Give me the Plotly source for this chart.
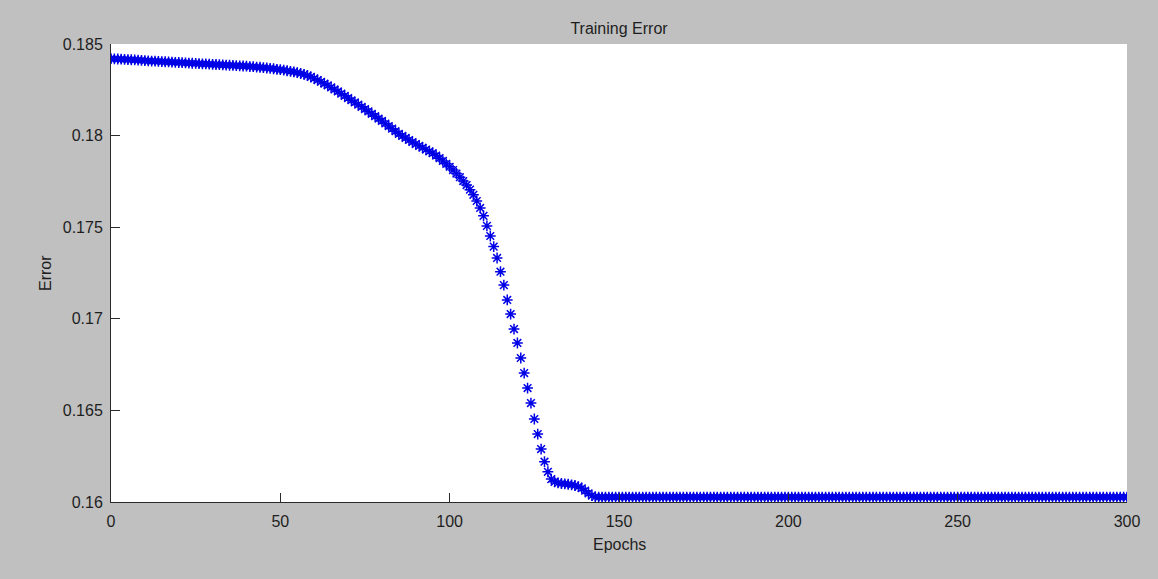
import plotly.graph_objects as go

# Training error per epoch (epochs 0..300)
epochs = list(range(0, 301))

error_head = [
    0.18420, 0.18419, 0.18418, 0.18417, 0.18416, 0.18415, 0.18414, 0.18413, 0.18412, 0.18411,
    0.18409, 0.18408, 0.18407, 0.18406, 0.18405, 0.18404, 0.18403, 0.18402, 0.18401, 0.18400,
    0.18399, 0.18398, 0.18397, 0.18396, 0.18395, 0.18394, 0.18393, 0.18392, 0.18391, 0.18390,
    0.18389, 0.18388, 0.18387, 0.18386, 0.18385, 0.18384, 0.18383, 0.18382, 0.18381, 0.18380,
    0.18379, 0.18377, 0.18376, 0.18374, 0.18373, 0.18371, 0.18369, 0.18367, 0.18365, 0.18362,
    0.18360, 0.18357, 0.18354, 0.18351, 0.18348, 0.18344, 0.18339, 0.18334, 0.18328, 0.18321,
    0.18312, 0.18303, 0.18294, 0.18284, 0.18274, 0.18263, 0.18252, 0.18241, 0.18229, 0.18217,
    0.18205, 0.18193, 0.18181, 0.18169, 0.18157, 0.18145, 0.18132, 0.18119, 0.18106, 0.18093,
    0.18080, 0.18066, 0.18052, 0.18038, 0.18024, 0.18010, 0.17998, 0.17987, 0.17976, 0.17965,
    0.17954, 0.17944, 0.17934, 0.17924, 0.17914, 0.17904, 0.17891, 0.17877, 0.17862, 0.17846,
    0.17830, 0.17812, 0.17793, 0.17773, 0.17752, 0.17730, 0.17705, 0.17677, 0.17643, 0.17605,
    0.17562, 0.17507, 0.17452, 0.17394, 0.17332, 0.17257, 0.17184, 0.17103, 0.17026, 0.16944,
    0.16868, 0.16786, 0.16704, 0.16622, 0.16540, 0.16453, 0.16371, 0.16289, 0.16220, 0.16165,
    0.16125, 0.16110, 0.16104, 0.16101, 0.16099, 0.16097, 0.16094, 0.16090, 0.16084, 0.16075,
    0.16062, 0.16047, 0.16035, 0.16028,
]

# Converged tail, epochs 144..300
error_tail = [
    0.16027, 0.16027, 0.16027, 0.16027, 0.16027, 0.16027, 0.16027, 0.16027, 0.16027, 0.16027,
    0.16027, 0.16027, 0.16027, 0.16027, 0.16027, 0.16027, 0.16027, 0.16027, 0.16027, 0.16027,
    0.16027, 0.16027, 0.16027, 0.16027, 0.16027, 0.16027, 0.16027, 0.16027, 0.16027, 0.16027,
    0.16027, 0.16027, 0.16027, 0.16027, 0.16027, 0.16027, 0.16027, 0.16027, 0.16027, 0.16027,
    0.16027, 0.16027, 0.16027, 0.16027, 0.16027, 0.16027, 0.16027, 0.16027, 0.16027, 0.16027,
    0.16027, 0.16027, 0.16027, 0.16027, 0.16027, 0.16027, 0.16027, 0.16027, 0.16027, 0.16027,
    0.16027, 0.16027, 0.16027, 0.16027, 0.16027, 0.16027, 0.16027, 0.16027, 0.16027, 0.16027,
    0.16027, 0.16027, 0.16027, 0.16027, 0.16027, 0.16027, 0.16027, 0.16027, 0.16027, 0.16027,
    0.16027, 0.16027, 0.16027, 0.16027, 0.16027, 0.16027, 0.16027, 0.16027, 0.16027, 0.16027,
    0.16027, 0.16027, 0.16027, 0.16027, 0.16027, 0.16027, 0.16027, 0.16027, 0.16027, 0.16027,
    0.16027, 0.16027, 0.16027, 0.16027, 0.16027, 0.16027, 0.16027, 0.16027, 0.16027, 0.16027,
    0.16027, 0.16027, 0.16027, 0.16027, 0.16027, 0.16027, 0.16027, 0.16027, 0.16027, 0.16027,
    0.16027, 0.16027, 0.16027, 0.16027, 0.16027, 0.16027, 0.16027, 0.16027, 0.16027, 0.16027,
    0.16027, 0.16027, 0.16027, 0.16027, 0.16027, 0.16027, 0.16027, 0.16027, 0.16027, 0.16027,
    0.16027, 0.16027, 0.16027, 0.16027, 0.16027, 0.16027, 0.16027, 0.16027, 0.16027, 0.16027,
    0.16027, 0.16027, 0.16027, 0.16027, 0.16027, 0.16027, 0.16027,
]

error = error_head + error_tail

x_ticks = [0, 50, 100, 150, 200, 250, 300]
y_ticks = [0.16, 0.165, 0.17, 0.175, 0.18, 0.185]
y_tick_labels = ["0.16", "0.165", "0.17", "0.175", "0.18", "0.185"]

FONT = "Liberation Sans, Arial, Helvetica, sans-serif"
TEXT = "#1e1e1e"
FIG_BG = "#c0c0c0"
FS = 16

fig = go.Figure()
fig.add_trace(go.Scatter(
    x=epochs,
    y=error,
    mode="markers",
    marker=dict(
        symbol="asterisk-open",
        size=9,
        color="#0000e6",
        line=dict(color="#0000e6", width=1.5),
    ),
    showlegend=False,
))

fig.update_layout(
    width=1158,
    height=579,
    margin=dict(l=111, r=31, t=44, b=77),
    paper_bgcolor=FIG_BG,
    plot_bgcolor="#ffffff",
    font=dict(family=FONT, size=FS, color=TEXT),
    title=dict(
        text="Training Error",
        x=(111 + 1127) / 2 / 1158,
        xanchor="center",
        y=1 - 28 / 579,
        yanchor="middle",
        font=dict(family=FONT, size=FS, color=TEXT),
    ),
    xaxis=dict(
        range=[0, 300],
        tickvals=x_ticks,
        ticks="inside",
        ticklen=9,
        tickwidth=1,
        tickcolor="#2a2a2a",
        showline=True,
        linecolor="#2a2a2a",
        linewidth=1,
        showgrid=False,
        zeroline=False,
        mirror=False,
        ticklabelstandoff=5,
        tickfont=dict(family=FONT, size=FS, color=TEXT),
    ),
    yaxis=dict(
        range=[0.16, 0.185],
        tickvals=y_ticks,
        ticktext=y_tick_labels,
        ticks="inside",
        ticklen=9,
        tickwidth=1,
        tickcolor="#2a2a2a",
        showline=True,
        linecolor="#2a2a2a",
        linewidth=1,
        showgrid=False,
        zeroline=False,
        mirror=False,
        ticklabelstandoff=4,
        tickfont=dict(family=FONT, size=FS, color=TEXT),
    ),
    annotations=[
        dict(
            text="Epochs",
            xref="paper", yref="paper",
            x=0.5, y=(502 - 544) / 458,
            xanchor="center", yanchor="middle",
            showarrow=False,
            font=dict(family=FONT, size=FS, color=TEXT),
        ),
        dict(
            text="Error",
            xref="paper", yref="paper",
            x=(45 - 111) / 1016, y=0.5,
            xanchor="center", yanchor="middle",
            textangle=-90,
            showarrow=False,
            font=dict(family=FONT, size=FS, color=TEXT),
        ),
    ],
)

fig.write_html("out.html")
